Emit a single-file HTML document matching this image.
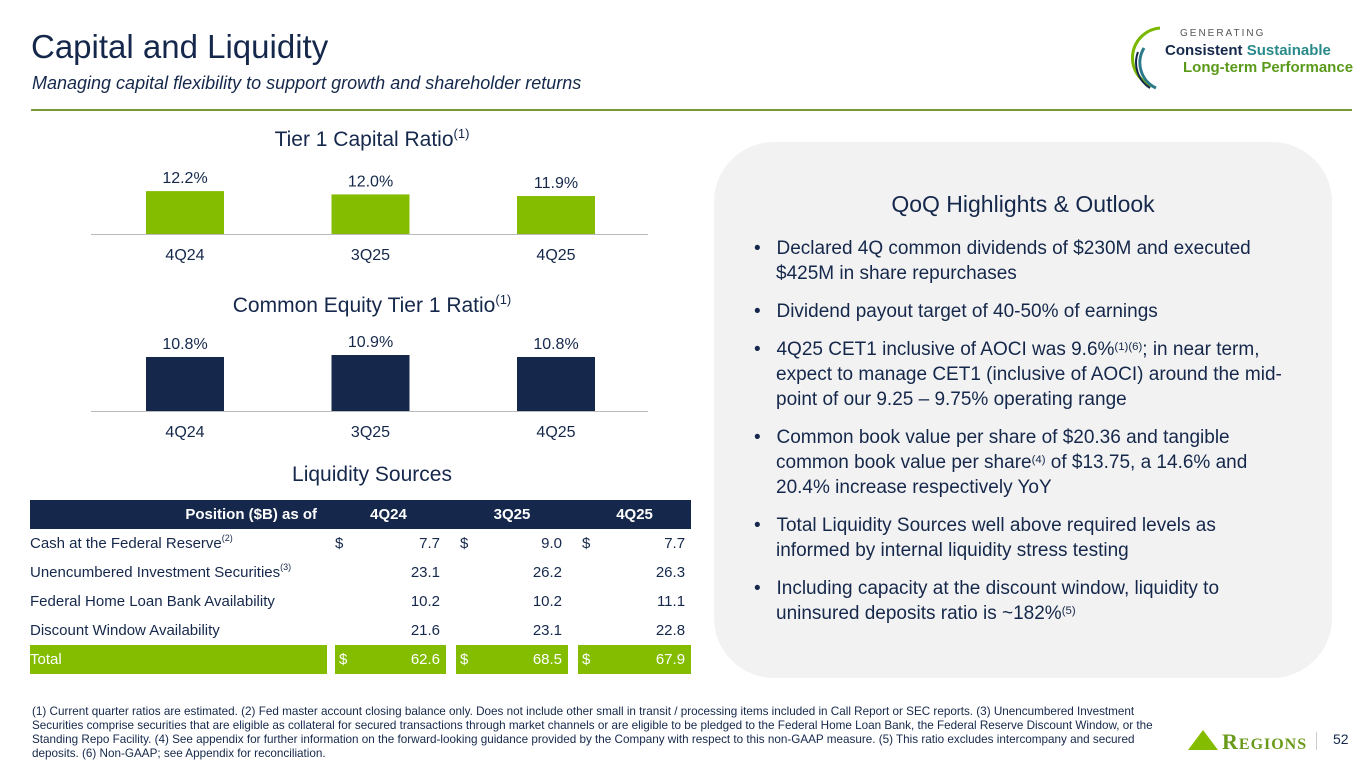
<!DOCTYPE html>
<html><head><meta charset="utf-8"><style>
body{margin:0;width:1365px;height:768px;overflow:hidden;background:#fff;font-family:"Liberation Sans",sans-serif;color:#15284b;position:relative}
.abs{position:absolute}
sup{font-size:60%;vertical-align:top;position:relative;top:-2px}
.hl li{margin-bottom:13px}
td{padding:0;height:29px;font-size:15px;white-space:nowrap;overflow:hidden}
td.n{text-align:right;padding-right:6px}
td.d{padding-left:4px}
tr.tot td.g{background:#84bd00}
</style></head><body>
<div class="abs" style="left:31px;top:28px;font-size:33px;color:#15284b">Capital and Liquidity</div>
<div class="abs" style="left:32px;top:73px;font-size:18px;font-style:italic;color:#15284b">Managing capital flexibility to support growth and shareholder returns</div>
<div class="abs" style="left:31px;top:109px;width:1321px;height:2px;background:#7a9a3a"></div>

<div class="abs" style="left:1130px;top:18px;width:225px;height:72px">
<svg width="40" height="72" class="abs" style="left:0;top:0"><path d="M30 10 A30 30 0 0 0 22 68" stroke="#7ab800" stroke-width="3" fill="none"/><path d="M14 30 A28 28 0 0 0 26 70" stroke="#2a7a8a" stroke-width="3" fill="none"/><path d="M8 34 A30 30 0 0 0 20 70" stroke="#15284b" stroke-width="2" fill="none"/></svg>
<div class="abs" style="left:50px;top:10px;font-size:10px;letter-spacing:2px;color:#555">GENERATING</div>
<div class="abs" style="left:35px;top:24px;font-size:15px;font-weight:bold;color:#15284b">Consistent <span style="color:#2a8a8a">Sustainable</span></div>
<div class="abs" style="left:53px;top:41px;font-size:15px;font-weight:bold;color:#5a9a1a">Long-term Performance</div>
</div>

<svg class="abs" style="left:0;top:0" width="710" height="470">
<text x="372" y="146" text-anchor="middle" font-size="21" fill="#15284b" font-family="Liberation Sans">Tier 1 Capital Ratio<tspan font-size="13" dy="-8">(1)</tspan></text>
<text x="372" y="312" text-anchor="middle" font-size="21" fill="#15284b" font-family="Liberation Sans">Common Equity Tier 1 Ratio<tspan font-size="13" dy="-8">(1)</tspan></text>
<g id="t1"></g><g id="ce"></g>
</svg>
<script>
const quarters=["4Q24","3Q25","4Q25"];
const tier1=[12.2,12.0,11.9];
const cet1=[10.8,10.9,10.8];
function drawChart(gid,vals,base,min,scale,color,name){
  const g=document.getElementById(gid);const ns="http://www.w3.org/2000/svg";
  const xs=i=>185+i*185.5;
  const ax=document.createElementNS(ns,"line");
  ax.setAttribute("x1",91);ax.setAttribute("x2",648);ax.setAttribute("y1",base+0.5);ax.setAttribute("y2",base+0.5);ax.setAttribute("stroke","#bbb");
  
  
  g.appendChild(ax);
  vals.forEach((v,i)=>{
    const h=(v-min)*scale;
    const r=document.createElementNS(ns,"rect");
    r.setAttribute("x",xs(i)-39);r.setAttribute("width",78);r.setAttribute("y",base-h);r.setAttribute("height",h);r.setAttribute("fill",color);
    
    
    g.appendChild(r);
    const t=document.createElementNS(ns,"text");
    t.setAttribute("x",xs(i));t.setAttribute("y",base-h-8);t.setAttribute("text-anchor","middle");t.setAttribute("font-size","16");t.setAttribute("fill","#15284b");
    t.textContent=v.toFixed(1)+"%";
    
    
    g.appendChild(t);
    const l=document.createElementNS(ns,"text");
    l.setAttribute("x",xs(i));l.setAttribute("y",base+26);l.setAttribute("text-anchor","middle");l.setAttribute("font-size","16");l.setAttribute("fill","#15284b");
    l.textContent=quarters[i];
    
    
    g.appendChild(l);
  });
}
drawChart("t1",tier1,234,9.6,16.5,"#84bd00","tier1");
drawChart("ce",cet1,411,8.1,20,"#15284b","cet1");
</script>

<div class="abs" style="left:0;width:744px;text-align:center;top:463px;font-size:21px">Liquidity Sources</div>
<table class="abs" style="left:30px;top:500px;width:661px;border-collapse:collapse;table-layout:fixed;color:#15284b">
<colgroup><col style="width:301px"><col style="width:25px"><col style="width:90px"><col style="width:10px"><col style="width:24px"><col style="width:88px"><col style="width:10px"><col style="width:24px"><col style="width:89px"></colgroup>
<tr style="background:#15284b;color:#fff;font-weight:bold"><td style="text-align:right;padding-right:14px;height:26px">Position ($B) as of</td><td colspan="2" style="text-align:center">4Q24</td><td></td><td colspan="2" style="text-align:center">3Q25</td><td></td><td colspan="2" style="text-align:center">4Q25</td></tr>
<tr><td>Cash at the Federal Reserve<sup>(2)</sup></td><td class="d">$</td><td class="n">7.7</td><td></td><td class="d">$</td><td class="n">9.0</td><td></td><td class="d">$</td><td class="n">7.7</td></tr>
<tr><td>Unencumbered Investment Securities<sup>(3)</sup></td><td></td><td class="n">23.1</td><td></td><td></td><td class="n">26.2</td><td></td><td></td><td class="n">26.3</td></tr>
<tr><td style="height:27px">Federal Home Loan Bank Availability</td><td></td><td class="n">10.2</td><td></td><td></td><td class="n">10.2</td><td></td><td></td><td class="n">11.1</td></tr>
<tr><td style="height:24px">Discount Window Availability</td><td></td><td class="n">21.6</td><td></td><td></td><td class="n">23.1</td><td></td><td></td><td class="n">22.8</td></tr>
<tr class="tot" style="color:#fff"><td class="g" style="border-right:8px solid #fff">Total</td><td class="g d">$</td><td class="g n">62.6</td><td></td><td class="g d">$</td><td class="g n">68.5</td><td></td><td class="g d">$</td><td class="g n">67.9</td></tr>
</table>

<div class="abs" style="left:714px;top:142px;width:618px;height:536px;background:#f2f2f2;border-radius:60px">
<div style="text-align:center;margin-top:49px;font-size:23px">QoQ Highlights &amp; Outlook</div>
<ul class="hl" style="margin:18px 0 0 0;padding:0 40px 0 62px;font-size:19px;line-height:25px;list-style:none">
<li style="text-indent:-22px">•&nbsp;&nbsp;&nbsp;Declared 4Q common dividends of $230M and executed $425M in share repurchases</li>
<li style="text-indent:-22px">•&nbsp;&nbsp;&nbsp;Dividend payout target of 40-50% of earnings</li>
<li style="text-indent:-22px">•&nbsp;&nbsp;&nbsp;4Q25 CET1 inclusive of AOCI was 9.6%<sup>(1)(6)</sup>; in near term, expect to manage CET1 (inclusive of AOCI) around the mid-point of our 9.25 – 9.75% operating range</li>
<li style="text-indent:-22px">•&nbsp;&nbsp;&nbsp;Common book value per share of $20.36 and tangible common book value per share<sup>(4)</sup> of $13.75, a 14.6% and 20.4% increase respectively YoY</li>
<li style="text-indent:-22px">•&nbsp;&nbsp;&nbsp;Total Liquidity Sources well above required levels as informed by internal liquidity stress testing</li>
<li style="text-indent:-22px">•&nbsp;&nbsp;&nbsp;Including capacity at the discount window, liquidity to uninsured deposits ratio is ~182%<sup>(5)</sup></li>
</ul></div>

<div class="abs" style="left:32px;top:705px;width:1145px;font-size:11.7px;line-height:14px;color:#15284b">(1) Current quarter ratios are estimated. (2) Fed master account closing balance only. Does not include other small in transit / processing items included in Call Report or SEC reports. (3) Unencumbered Investment Securities comprise securities that are eligible as collateral for secured transactions through market channels or are eligible to be pledged to the Federal Home Loan Bank, the Federal Reserve Discount Window, or the Standing Repo Facility. (4) See appendix for further information on the forward-looking guidance provided by the Company with respect to this non-GAAP measure. (5) This ratio excludes intercompany and secured deposits. (6) Non-GAAP; see Appendix for reconciliation.</div>

<div class="abs" style="left:1188px;top:728px;height:26px;width:130px">
<svg width="30" height="22" class="abs" style="left:0;top:2px"><polygon points="15,0 30,20 0,20" fill="#84bd00"/></svg>
<div class="abs" style="left:34px;top:1px;font-family:'Liberation Serif',serif;font-size:22px;font-weight:bold;color:#6a9a1a;letter-spacing:1px">R<span style="font-size:16px">EGIONS</span></div>
</div>
<div class="abs" style="left:1316px;top:732px;width:1px;height:18px;background:#ccc"></div>
<div class="abs" style="left:1333px;top:731px;font-size:14px;color:#15284b">52</div>
</body></html>
